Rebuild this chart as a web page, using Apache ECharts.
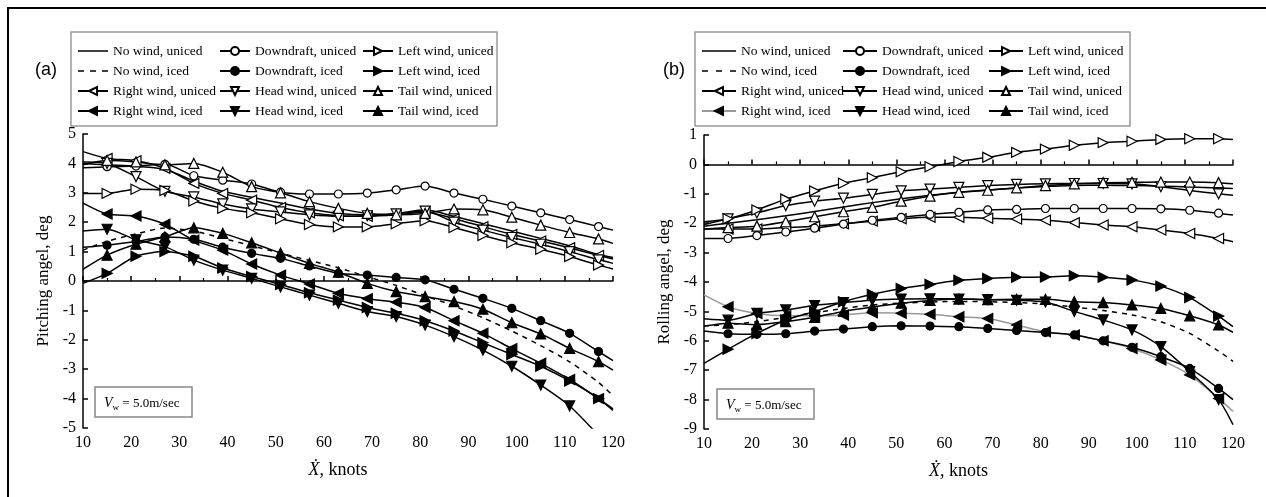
<!DOCTYPE html>
<html>
<head>
<meta charset="utf-8">
<script src="https://cdn.jsdelivr.net/npm/echarts@6/dist/echarts.min.js"></script>
<style>
  body { margin: 0; background: #fff; overflow: hidden; }
  #frame { position: absolute; left: 7px; top: 7px; width: 1265px; height: 495px; border: 2px solid #000; border-bottom: none; border-right: none; }
  #chartA { position: absolute; left: 0; top: 0; width: 633px; height: 497px; }
  #chartB { position: absolute; left: 633px; top: 0; width: 633px; height: 497px; }
</style>
</head>
<body>
<div id="chartA"></div>
<div id="chartB"></div>
<div id="frame"></div>
<script>
// x positions: line ends at 10 and 120, markers from 15 to 117
const knots = [10, 15, 21, 27, 33, 39, 45, 51, 57, 63, 69, 75, 81, 87, 93, 99, 105, 111, 117, 120]

// (a) pitching angle
const aNoWindU = [4.0, 3.95, 3.9, 3.8, 3.4, 3.05, 2.85, 2.65, 2.45, 2.3, 2.25, 2.3, 2.42, 2.2, 1.95, 1.7, 1.45, 1.2, 0.9, 0.8]
const aNoWindI = [1.05, 1.35, 1.6, 1.8, 1.7, 1.45, 1.2, 0.95, 0.7, 0.45, 0.15, -0.15, -0.5, -0.85, -1.25, -1.7, -2.2, -2.75, -3.45, -3.9]
const aDownU = [3.85, 3.89, 3.91, 3.97, 3.58, 3.43, 3.3, 3.02, 2.96, 2.96, 2.99, 3.1, 3.23, 2.99, 2.78, 2.55, 2.32, 2.09, 1.85, 1.73]
const aDownI = [1.15, 1.22, 1.34, 1.5, 1.42, 1.15, 0.94, 0.77, 0.51, 0.26, 0.2, 0.12, 0.04, -0.28, -0.59, -0.93, -1.35, -1.78, -2.4, -2.71]
const aLeftU = [2.98, 2.98, 3.12, 3.08, 2.72, 2.47, 2.32, 2.12, 1.92, 1.84, 1.84, 1.95, 2.05, 1.82, 1.55, 1.3, 1.08, 0.83, 0.54, 0.41]
const aLeftI = [-0.08, 0.26, 0.84, 1.0, 0.84, 0.44, 0.15, -0.12, -0.4, -0.65, -0.9, -1.1, -1.35, -1.7, -2.1, -2.5, -2.9, -3.4, -4.0, -4.4]
const aRightU = [4.4, 4.17, 4.09, 3.83, 3.32, 2.98, 2.75, 2.5, 2.32, 2.22, 2.2, 2.25, 2.35, 2.12, 1.85, 1.58, 1.36, 1.13, 0.87, 0.75]
const aRightI = [2.65, 2.28, 2.21, 1.93, 1.39, 1.05, 0.58, 0.2, -0.1, -0.42, -0.6, -0.72, -0.9, -1.35, -1.78, -2.3, -2.8, -3.35, -4.0, -4.35]
const aHeadU = [4.05, 4.0, 3.55, 3.05, 2.86, 2.62, 2.45, 2.35, 2.25, 2.2, 2.22, 2.28, 2.38, 2.0, 1.73, 1.48, 1.25, 1.0, 0.72, 0.6]
const aHeadI = [1.7, 1.76, 1.4, 1.17, 0.71, 0.37, 0.09, -0.2, -0.48, -0.76, -1.04, -1.21, -1.5, -1.89, -2.35, -2.9, -3.54, -4.25, -5.25, -5.8]
const aTailU = [3.95, 4.1, 4.05, 3.95, 4.0, 3.7, 3.21, 3.0, 2.7, 2.47, 2.3, 2.25, 2.3, 2.45, 2.42, 2.17, 1.9, 1.65, 1.43, 1.28]
const aTailI = [0.4, 0.88, 1.25, 1.5, 1.81, 1.62, 1.3, 0.95, 0.6, 0.3, -0.08, -0.36, -0.53, -0.7, -0.96, -1.42, -1.8, -2.29, -2.74, -3.03]

// (b) rolling angle
const bNoWindU = [-2.1, -2.0, -1.88, -1.75, -1.6, -1.45, -1.3, -1.17, -1.05, -0.95, -0.87, -0.8, -0.75, -0.72, -0.71, -0.72, -0.74, -0.77, -0.8, -0.82]
const bNoWindI = [-5.5, -5.45, -5.35, -5.2, -5.05, -4.9, -4.78, -4.72, -4.68, -4.66, -4.67, -4.7, -4.75, -4.85, -4.97, -5.12, -5.35, -5.75, -6.35, -6.7]
const bDownU = [-2.52, -2.52, -2.42, -2.3, -2.17, -2.03, -1.9, -1.8, -1.7, -1.63, -1.55, -1.53, -1.5, -1.5, -1.5, -1.5, -1.51, -1.56, -1.66, -1.72]
const bDownI = [-5.67, -5.76, -5.78, -5.76, -5.67, -5.6, -5.52, -5.49, -5.5, -5.52, -5.58, -5.65, -5.72, -5.8, -6.0, -6.22, -6.54, -6.94, -7.62, -8.0]
const bLeftU = [-1.95, -1.85, -1.55, -1.18, -0.9, -0.64, -0.45, -0.25, -0.08, 0.1, 0.24, 0.41, 0.52, 0.65, 0.74, 0.79, 0.85, 0.87, 0.87, 0.85]
const bLeftI = [-6.77, -6.29, -5.75, -5.29, -5.0, -4.67, -4.42, -4.22, -4.08, -3.94, -3.88, -3.84, -3.83, -3.79, -3.84, -3.93, -4.14, -4.53, -5.16, -5.52]
const bRightU = [-2.2, -2.2, -2.2, -2.15, -2.1, -2.02, -1.93, -1.85, -1.8, -1.8, -1.83, -1.86, -1.9, -1.98, -2.06, -2.12, -2.23, -2.35, -2.52, -2.63]
const bRightI = [-4.44, -4.84, -5.07, -5.15, -5.15, -5.12, -5.05, -5.06, -5.1, -5.18, -5.24, -5.46, -5.69, -5.8, -6.0, -6.26, -6.65, -7.16, -7.96, -8.4]
const bHeadU = [-2.05, -1.85, -1.65, -1.4, -1.25, -1.15, -1.02, -0.9, -0.84, -0.78, -0.72, -0.68, -0.66, -0.65, -0.65, -0.66, -0.76, -0.89, -1.0, -1.05]
const bHeadI = [-5.25, -5.3, -5.07, -4.95, -4.8, -4.7, -4.62, -4.58, -4.57, -4.58, -4.6, -4.62, -4.68, -5.0, -5.29, -5.63, -6.2, -7.05, -8.0, -8.85]
const bTailU = [-2.2, -2.15, -2.1, -1.95, -1.78, -1.61, -1.46, -1.25, -1.08, -0.95, -0.88, -0.8, -0.72, -0.66, -0.62, -0.61, -0.6, -0.6, -0.62, -0.66]
const bTailI = [-5.5, -5.4, -5.45, -5.35, -5.2, -5.0, -4.85, -4.72, -4.63, -4.58, -4.6, -4.59, -4.59, -4.67, -4.7, -4.78, -4.9, -5.15, -5.46, -5.71]

const names = [
  'No wind, uniced', 'No wind, iced', 'Right wind, uniced', 'Right wind, iced',
  'Downdraft, uniced', 'Downdraft, iced', 'Head wind, uniced', 'Head wind, iced',
  'Left wind, uniced', 'Left wind, iced', 'Tail wind, uniced', 'Tail wind, iced'
]
// marker per name: [symbol, rotate, filled]
const marks = {
  'No wind, uniced': ['none', 0, false],
  'No wind, iced': ['none', 0, false],
  'Downdraft, uniced': ['circle', 0, false],
  'Downdraft, iced': ['circle', 0, true],
  'Left wind, uniced': ['triangle', -90, false],
  'Left wind, iced': ['triangle', -90, true],
  'Right wind, uniced': ['triangle', 90, false],
  'Right wind, iced': ['triangle', 90, true],
  'Head wind, uniced': ['triangle', 180, false],
  'Head wind, iced': ['triangle', 180, true],
  'Tail wind, uniced': ['triangle', 0, false],
  'Tail wind, iced': ['triangle', 0, true]
}

const serif = 'Liberation Serif, Times New Roman, serif'

// legend icons for the two plain lines (tiny corner dots keep the full icon box)
function plainIcon (w, dashed) {
  let mid = dashed
    ? 'M0,4.3H6V5.7H0Z M' + (w / 2 - 3) + ',4.3H' + (w / 2 + 3) + 'V5.7H' + (w / 2 - 3) + 'Z M' + (w - 6) + ',4.3H' + w + 'V5.7H' + (w - 6) + 'Z'
    : 'M0,4.3H' + w + 'V5.7H0Z'
  return 'path://M0,0H0.05V0.05H0Z ' + mid + ' M0,9.95H0.05V10H0Z'
}

function makeSeries (name, vals, lineColor) {
  let m = marks[name]
  let data = knots.map(function (k, i) {
    let item = { value: [k, vals[i]] }
    if (i === 0 || i === knots.length - 1) item.symbol = 'none'
    return item
  })
  return {
    name: name,
    type: 'line',
    smooth: 0.25,
    symbol: m[0],
    symbolRotate: m[1],
    symbolSize: m[0] === 'circle' ? 8 : 10,
    showSymbol: m[0] !== 'none',
    itemStyle: { color: m[2] ? '#000' : '#fff', borderColor: '#000', borderWidth: 1.2 },
    lineStyle: { color: lineColor || '#000', width: 1.5, type: name === 'No wind, iced' ? [5, 5] : 'solid' },
    emphasis: { disabled: true },
    data: data
  }
}

function legends (xs, w) {
  let cols = [names.slice(0, 4), names.slice(4, 8), names.slice(8, 12)]
  return cols.map(function (c, i) {
    return {
      orient: 'vertical',
      left: xs[i],
      top: 44,
      padding: 0,
      itemWidth: w,
      itemHeight: 10,
      itemGap: 6,
      selectedMode: false,
      textStyle: { fontFamily: serif, fontSize: 13.5, color: '#000' },
      data: c.map(function (n) {
        if (n === 'No wind, uniced') return { name: n, icon: plainIcon(w, false), itemStyle: { color: '#000', borderWidth: 0 } }
        if (n === 'No wind, iced') return { name: n, icon: plainIcon(w, true), itemStyle: { color: '#000', borderWidth: 0 } }
        return n
      })
    }
  })
}

function buildOption (cfg) {
  return {
    animation: false,
    legend: legends(cfg.legX, cfg.legW),
    grid: { left: cfg.gl, right: cfg.gr, top: cfg.gt, bottom: cfg.gb },
    xAxis: {
      type: 'value', min: 10, max: 120, interval: 10,
      name: '{x|Ẋ}{n|, knots}', nameLocation: 'middle', nameGap: 33,
      nameTextStyle: { padding: [0, 20, 0, 0], rich: {
        x: { fontFamily: serif, fontStyle: 'italic', fontSize: 18, color: '#000' },
        n: { fontFamily: serif, fontSize: 18, color: '#000' }
      } },
      axisLine: { lineStyle: { color: '#000', width: 1.5 } },
      axisTick: { inside: true, length: 5, lineStyle: { color: '#000', width: 1.5 } },
      minorTick: { show: true, splitNumber: 2, length: 3, lineStyle: { color: '#000', width: 1.2 } },
      axisLabel: { fontFamily: serif, fontSize: 16, color: '#000', margin: 7 },
      splitLine: { show: false }
    },
    yAxis: {
      type: 'value', min: cfg.ymin, max: cfg.ymax, interval: 1,
      name: cfg.yname, nameLocation: 'middle', nameGap: 31, nameRotate: 90,
      nameTextStyle: { fontFamily: serif, fontSize: 17, color: '#000' },
      axisLine: { lineStyle: { color: '#000', width: 1.5 } },
      axisTick: { inside: true, length: 5, lineStyle: { color: '#000', width: 1.5 } },
      axisLabel: { fontFamily: serif, fontSize: 16, color: '#000', margin: 7 },
      splitLine: { show: false }
    },
    graphic: [
      { type: 'rect', shape: { x: cfg.boxX, y: 32, width: cfg.boxW, height: 94 }, style: { fill: 'none', stroke: '#999', lineWidth: 1.5 }, z: -1 },
      { type: 'text', left: cfg.labX, top: 61, style: { text: cfg.label, font: '18px Liberation Sans, Arial, sans-serif', fill: '#000' } },
      { type: 'rect', shape: { x: cfg.vwX, y: cfg.vwY, width: 97, height: 30 }, style: { fill: '#fff', stroke: '#888', lineWidth: 1.5 } },
      { type: 'text', x: cfg.vwX + 9, y: cfg.vwY + 8, style: {
        text: '{v|V}{w|w}{t| = 5.0m/sec}',
        rich: {
          v: { fontFamily: serif, fontStyle: 'italic', fontSize: 14, fill: '#000' },
          w: { fontFamily: serif, fontSize: 9, fill: '#000', padding: [8, 0, 0, 0] },
          t: { fontFamily: serif, fontSize: 13, fill: '#000' }
        }
      } }
    ],
    series: cfg.series
  }
}

const chartA = echarts.init(document.getElementById('chartA'))
chartA.setOption(buildOption({
  legX: [77, 219, 362], legW: 30, gl: 83, gr: 20, gt: 134, gb: 69, ymin: -5, ymax: 5,
  yname: 'Pitching angel, deg', label: '(a)', labX: 35, boxX: 71, boxW: 426,
  vwX: 95, vwY: 387,
  series: [
    makeSeries('No wind, uniced', aNoWindU), makeSeries('No wind, iced', aNoWindI),
    makeSeries('Right wind, uniced', aRightU), makeSeries('Right wind, iced', aRightI),
    makeSeries('Downdraft, uniced', aDownU), makeSeries('Downdraft, iced', aDownI),
    makeSeries('Head wind, uniced', aHeadU), makeSeries('Head wind, iced', aHeadI),
    makeSeries('Left wind, uniced', aLeftU), makeSeries('Left wind, iced', aLeftI),
    makeSeries('Tail wind, uniced', aTailU), makeSeries('Tail wind, iced', aTailI)
  ]
}))

const chartB = echarts.init(document.getElementById('chartB'))
chartB.setOption(buildOption({
  legX: [68, 209, 355], legW: 34, gl: 71, gr: 33, gt: 135, gb: 68, ymin: -9, ymax: 1,
  yname: 'Rolling angel, deg', label: '(b)', labX: 30, boxX: 62, boxW: 435,
  vwX: 84, vwY: 389,
  series: [
    makeSeries('No wind, uniced', bNoWindU), makeSeries('No wind, iced', bNoWindI),
    makeSeries('Right wind, uniced', bRightU), makeSeries('Right wind, iced', bRightI, '#999'),
    makeSeries('Downdraft, uniced', bDownU), makeSeries('Downdraft, iced', bDownI),
    makeSeries('Head wind, uniced', bHeadU), makeSeries('Head wind, iced', bHeadI),
    makeSeries('Left wind, uniced', bLeftU), makeSeries('Left wind, iced', bLeftI),
    makeSeries('Tail wind, uniced', bTailU), makeSeries('Tail wind, iced', bTailI)
  ]
}))
</script>
</body>
</html>
